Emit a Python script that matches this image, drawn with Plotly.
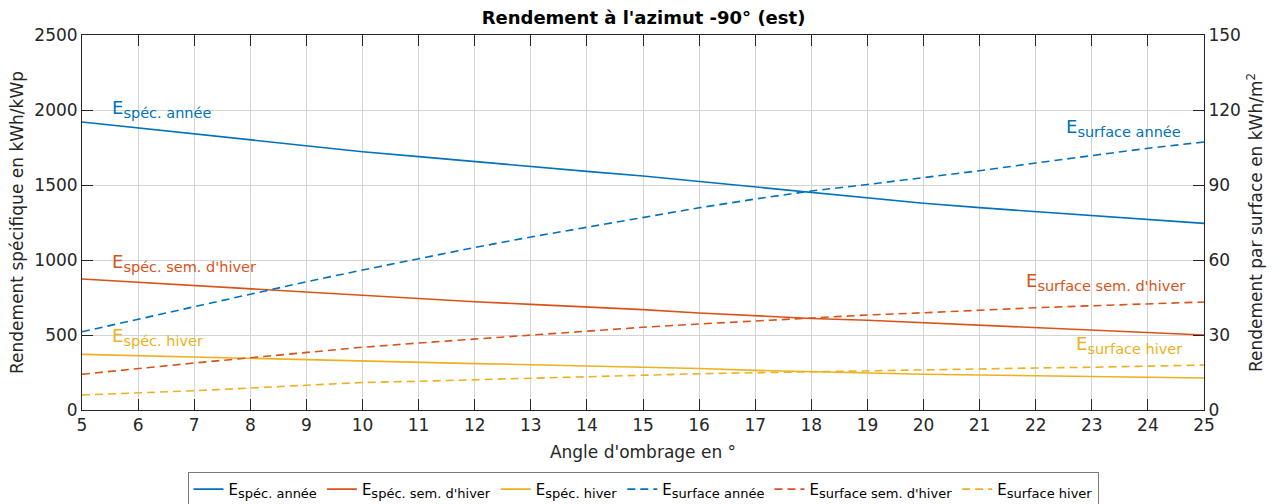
import plotly.graph_objects as go

# Angle d'ombrage (°)
angles = list(range(5, 26))

# Rendement spécifique (kWh/kWp) – axe gauche
spec_annee = [1920, 1880, 1840, 1800, 1762, 1722, 1689, 1655, 1622, 1591, 1560,
              1524, 1487, 1452, 1415, 1378, 1349, 1322, 1295, 1271, 1244]
spec_sem_hiver = [873, 851, 830, 807, 783, 762, 740, 722, 704, 687, 669,
                  647, 626, 610, 598, 582, 565, 547, 531, 516, 500]
spec_hiver = [371, 362, 353, 344, 333, 322, 316, 309, 302, 294, 287,
              277, 264, 254, 246, 238, 233, 229, 225, 220, 213]

# Rendement par surface (kWh/m²) – axe droit
surf_annee = [31.3, 36.3, 41.5, 46.6, 51.3, 56.0, 60.6, 65.0, 69.2, 73.2, 77.2,
              80.9, 84.4, 87.6, 90.2, 92.9, 95.7, 98.8, 101.9, 104.7, 107.2]
surf_sem_hiver = [14.3, 16.7, 18.8, 20.9, 23.1, 25.1, 26.8, 28.4, 30.0, 31.6, 33.1,
                  34.4, 35.6, 37.0, 38.0, 38.9, 40.0, 40.9, 41.7, 42.5, 43.2]
surf_hiver = [6.0, 6.8, 7.7, 8.8, 9.9, 11.0, 11.5, 12.1, 12.9, 13.6, 14.1,
              14.5, 14.9, 15.3, 15.9, 16.3, 16.5, 16.8, 17.1, 17.5, 18.0]

BLUE = "#0072BD"
RED = "#D95319"
YELLOW = "#EDB120"
FONT = "DejaVu Sans, Liberation Sans, Arial"
AXIS = "#262626"
GRID = "#d4d4d4"
DASH = "8px,5px"


def lbl(sub, size):
    return f"E<sub><span style='font-size:{size}px'>{sub}</span></sub>"


fig = go.Figure()

left_series = [
    ("spéc. année", spec_annee, BLUE),
    ("spéc. sem. d'hiver", spec_sem_hiver, RED),
    ("spéc. hiver", spec_hiver, YELLOW),
]
right_series = [
    ("surface année", surf_annee, BLUE),
    ("surface sem. d'hiver", surf_sem_hiver, RED),
    ("surface hiver", surf_hiver, YELLOW),
]

for sub, ys, col in left_series:
    fig.add_trace(go.Scatter(x=angles, y=ys, mode="lines", name=lbl(sub, 13),
                             line=dict(color=col, width=1.6), yaxis="y"))
for sub, ys, col in right_series:
    fig.add_trace(go.Scatter(x=angles, y=ys, mode="lines", name=lbl(sub, 13),
                             line=dict(color=col, width=1.6, dash=DASH), yaxis="y2"))

# Étiquettes des courbes
labels = [
    ("spéc. année", 5.5, 2005, "y", BLUE),
    ("spéc. sem. d'hiver", 5.5, 978, "y", RED),
    ("spéc. hiver", 5.5, 485, "y", YELLOW),
    ("surface année", 22.5, 113.0, "y2", BLUE),
    ("surface sem. d'hiver", 21.79, 51.2, "y2", RED),
    ("surface hiver", 22.68, 26.0, "y2", YELLOW),
]
for sub, x, y, yref, col in labels:
    fig.add_annotation(x=x, y=y, xref="x", yref=yref, text=lbl(sub, 14.5),
                       showarrow=False, xanchor="left", yanchor="middle",
                       font=dict(family=FONT, size=18, color=col))

fig.update_layout(
    width=1287, height=504,
    margin=dict(l=82, r=83, t=35, b=94, autoexpand=False),
    paper_bgcolor="white", plot_bgcolor="white",
    font=dict(family=FONT, size=17, color=AXIS),
    title=dict(text="<b>Rendement à l'azimut -90° (est)</b>", x=0.5, xanchor="center",
               y=1 - 18 / 504, yanchor="middle", font=dict(family=FONT, size=18, color="black")),
    xaxis=dict(range=[5, 25], dtick=1, tick0=5, showgrid=True, gridcolor=GRID, gridwidth=1,
               showline=True, linecolor=AXIS, linewidth=1, mirror="ticks",
               ticks="inside", ticklen=11, tickcolor=AXIS, zeroline=False,
               tickfont=dict(size=17, color=AXIS),
               title=dict(text="Angle d'ombrage en °", font=dict(size=17, color=AXIS), standoff=11)),
    yaxis=dict(range=[0, 2500], dtick=500, showgrid=True, gridcolor=GRID, gridwidth=1,
               showline=True, linecolor=AXIS, linewidth=1, ticks="inside", ticklen=11,
               tickcolor=AXIS, zeroline=False, tickfont=dict(size=17, color=AXIS),
               title=dict(text="Rendement spécifique en kWh/kWp", font=dict(size=17, color=AXIS),
                          standoff=6)),
    yaxis2=dict(range=[0, 150], dtick=30, overlaying="y", side="right", showgrid=False,
                showline=True, linecolor=AXIS, linewidth=1, ticks="inside", ticklen=11,
                tickcolor=AXIS, zeroline=False, tickfont=dict(size=17, color=AXIS),
                title=dict(text="Rendement par surface en kWh/m<sup>2</sup>",
                           font=dict(size=17, color=AXIS), standoff=10)),
    legend=dict(orientation="h", x=0.5, xanchor="center", y=-0.165, yanchor="top",
                bordercolor="#7a7a7a", borderwidth=1, bgcolor="white",
                font=dict(family=FONT, size=15, color="black"),
                itemwidth=30, tracegroupgap=0),
    showlegend=True,
)

fig.write_html("out.html")
